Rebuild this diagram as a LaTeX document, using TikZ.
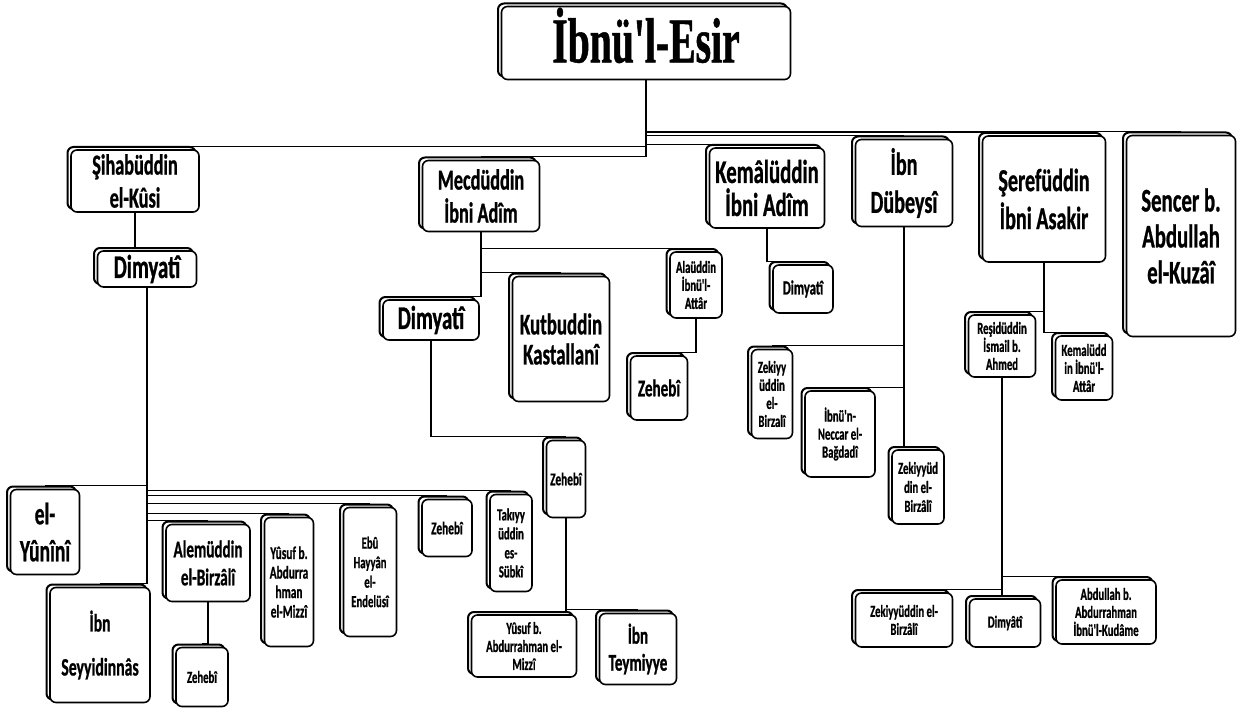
\documentclass[tikz,border=0pt]{standalone}
\usepackage{fontspec}
\usetikzlibrary{shadows}
\newfontfamily\lab[FakeStretch=0.63, FakeBold=0.8]{Carlito}
\newfontfamily\ttl[FakeStretch=0.62, FakeBold=0.8]{Liberation Serif}
\tikzset{
	box/.style={draw, line width=1.6pt, rounded corners=6pt, fill=white, align=center, inner sep=0pt,
		general shadow={shadow xshift=-3.5pt, shadow yshift=3pt, draw=black, fill=white, line width=2pt}},
	sz/.style 2 args={minimum width=#1pt, minimum height=#2pt},
	txt/.style 2 args={font=\lab\bfseries\fontsize{#1}{#2}\selectfont},
	conn/.style={line width=1.3pt}
}
\begin{document}
\begin{tikzpicture}[x=1pt,y=-1pt]
	\useasboundingbox (0,0) rectangle (1238,711);

	% root
	\node[box, sz={289}{73}, text depth=16pt, font=\ttl\bfseries\fontsize{64}{66}\selectfont] (root) at (646,43) {İbnü'l-Esir};

	% first level
	\node[box, sz={128}{62}, txt={29}{33}] (sih) at (135,181) {Şihabüddin\\el-Kûsi};
	\node[box, sz={117}{71}, txt={29}{33}] (mec) at (481,196) {Mecdüddin\\İbni Adîm};
	\node[box, sz={115}{80}, txt={33}{33}] (kem) at (767,188) {Kemâlüddin\\İbni Adîm};
	\node[box, sz={97}{87}, txt={32}{38}] (dub) at (904,183) {İbn\\Dübeysî};
	\node[box, sz={123}{126}, txt={32}{38}] (ser) at (1044,199) {Şerefüddin\\İbni Asakir};
	\node[box, sz={109}{201}, txt={33}{36}] (sen) at (1181,236) {Sencer b.\\Abdullah\\el-Kuzâî};

	% under el-Kusi
	\node[box, sz={99}{36}, txt={33}{30}] (dimA) at (147,269) {Dimyatî};
	\node[box, sz={69}{85}, txt={31}{37}] (yun) at (45,532) {el-\\Yûnînî};
	\node[box, sz={100}{115}, txt={25}{44}] (sey) at (100,645) {İbn\\Seyyidinnâs};
	\node[box, sz={84}{77}, txt={24}{28}] (ale) at (208,563) {Alemüddin\\el-Birzâlî};
	\node[box, sz={49}{129}, txt={18}{19.5}] (yusA) at (289,582) {Yûsuf b.\\Abdurra\\hman\\el-Mizzî};
	\node[box, sz={53}{129}, txt={17}{19.5}] (ebu) at (370,572) {Ebû\\Hayyân\\el-\\Endelüsî};
	\node[box, sz={50}{57}, txt={18}{19}] (zehA) at (447,528) {Zehebî};
	\node[box, sz={42}{97}, txt={17}{19}] (tak) at (511,543) {Takıyy\\üddin\\es-\\Sübkî};
	\node[box, sz={52}{59}, txt={17}{19}] (zehB) at (202,677) {Zehebî};

	% under Mecduddin
	\node[box, sz={96}{40}, txt={33}{30}] (dimB) at (431,320) {Dimyatî};
	\node[box, sz={97}{125}, txt={30}{30}] (kut) at (561,339) {Kutbuddin\\Kastallanî};
	\node[box, sz={52}{66}, txt={17}{18}] (ala) at (696,285) {Alaüddin\\İbnü'l-\\Attâr};
	\node[box, sz={57}{64}, txt={24}{24}] (zehC) at (659,388) {Zehebî};
	\node[box, sz={39}{77}, txt={18}{19}] (zehD) at (566,479) {Zehebî};
	\node[box, sz={105}{62}, txt={17}{18}] (yusB) at (524,646) {Yûsuf b.\\Abdurrahman el-\\Mizzî};
	\node[box, sz={77}{71}, txt={24}{27}] (teym) at (638,649) {İbn\\Teymiyye};

	% under Kemaluddin and Dubeysi
	\node[box, sz={60}{48}, txt={20}{20}] (dimC) at (803,289) {Dimyatî};
	\node[box, sz={41}{89}, txt={17}{18}] (zekA) at (772,394) {Zekiyy\\üddin\\el-\\Birzalî};
	\node[box, sz={70}{86}, txt={17}{18}] (ibn) at (840,434) {İbnü'n-\\Neccar el-\\Bağdadî};
	\node[box, sz={52}{74}, txt={17}{19}] (zekB) at (918,487) {Zekiyyüd\\din el-\\Birzâlî};

	% under Serefuddin
	\node[box, sz={67}{62}, txt={17}{18}] (res) at (1002,346) {Reşidüddin\\İsmail b.\\Ahmed};
	\node[box, sz={57}{64}, txt={17}{18}] (kemB) at (1084,368) {Kemalüdd\\in İbnü'l-\\Attâr};
	\node[box, sz={97}{54}, txt={17}{18}] (zekC) at (904,620) {Zekiyyüddin el-\\Birzâlî};
	\node[box, sz={71}{48}, txt={17}{18}] (dimD) at (1005,623) {Dimyâtî};
	\node[box, sz={100}{64}, txt={17}{18}] (abd) at (1106,612) {Abdullah b.\\Abdurrahman\\İbnü'l-Kudâme};

	% connectors
	\foreach \p/\c in {root/sih, root/mec, root/kem, root/dub, root/ser, root/sen,
			sih/dimA, dimA/yun, dimA/sey, dimA/ale, dimA/yusA, dimA/ebu, dimA/zehA, dimA/tak, ale/zehB,
			mec/dimB, mec/kut, mec/ala, ala/zehC, dimB/zehD, zehD/yusB, zehD/teym,
			kem/dimC, dub/zekA, dub/ibn, dub/zekB,
			ser/res, ser/kemB, res/zekC, res/dimD, res/abd}
		\draw[conn] (\p.south) |- ([yshift=3pt]\c.north);
\end{tikzpicture}
\end{document}
